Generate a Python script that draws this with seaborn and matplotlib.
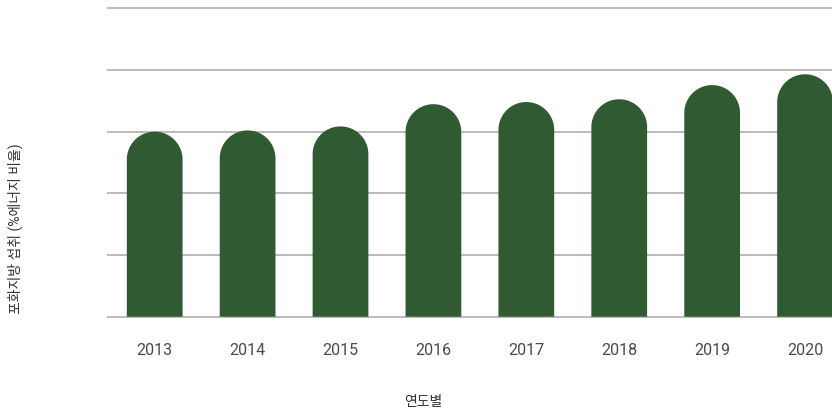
import matplotlib
matplotlib.use("Agg")
import matplotlib.pyplot as plt
from matplotlib.patches import PathPatch
from matplotlib.path import Path
import numpy as np
import pandas as pd
import seaborn as sns

# data
years = ["2013", "2014", "2015", "2016", "2017", "2018", "2019", "2020"]
sat_fat = [6.00, 6.04, 6.17, 6.89, 6.96, 7.05, 7.51, 7.86]
grid_ticks = [0, 2, 4, 6, 8, 10]

bar_color = "#2f5a32"
grid_color = "#b5b5b5"

sns.set_style("white")
plt.rcParams['font.family'] = ['Roboto', 'Noto Sans CJK KR', 'DejaVu Sans']

df = pd.DataFrame({"year": years, "value": sat_fat})

fig = plt.figure(figsize=(8.32, 4.12), dpi=100)
ax = fig.add_axes([107.3 / 832, 0.2238, 1 - 107.3 / 832, 0.7636])

sns.barplot(data=df, x="year", y="value", color=bar_color, width=0.6,
            saturation=1, ax=ax, zorder=3)

ax.set_xlim(-0.51, 7.29)
ax.set_ylim(-0.1, 10.1)
ax.set_yticks(grid_ticks)
ax.set_yticklabels([])
ax.yaxis.grid(True, color=grid_color, linewidth=1.3)
ax.set_axisbelow(True)
ax.tick_params(axis="both", length=0)
ax.tick_params(axis="x", pad=16.5, labelsize=11.5, labelcolor="#4a4a4a")
for s in ax.spines.values():
    s.set_visible(False)

# swap each bar for a path with a round (semicircle on screen) top
px_per_y = ax.transData.transform((0, 1))[1] - ax.transData.transform((0, 0))[1]
px_per_x = ax.transData.transform((1, 0))[0] - ax.transData.transform((0, 0))[0]
theta = np.linspace(np.pi, 0, 60)
for p in list(ax.patches):
    x, w, h = p.get_x(), p.get_width(), p.get_height()
    rx = w / 2
    ry = (w * px_per_x / 2) / px_per_y
    cx, cy = x + rx, h - ry
    xs = np.concatenate([[x], cx + rx * np.cos(theta), [x + w]])
    ys = np.concatenate([[0], cy + ry * np.sin(theta), [0]])
    verts = np.column_stack([xs, ys])
    ax.add_patch(PathPatch(Path(np.vstack([verts, verts[:1]]), closed=True),
                           facecolor=bar_color, edgecolor="none", zorder=3))
    p.remove()

ax.set_xlabel("연도별", fontsize=10, color="#333333")
ax.xaxis.set_label_coords((423 - 107.3) / (832 - 107.3), -0.239)
ax.set_ylabel("포화지방 섭취 (%에너지 비율)", fontsize=10, color="#333333")
ax.yaxis.set_label_coords(-0.1165, 0.289)

fig.savefig("out.png", dpi=100)
